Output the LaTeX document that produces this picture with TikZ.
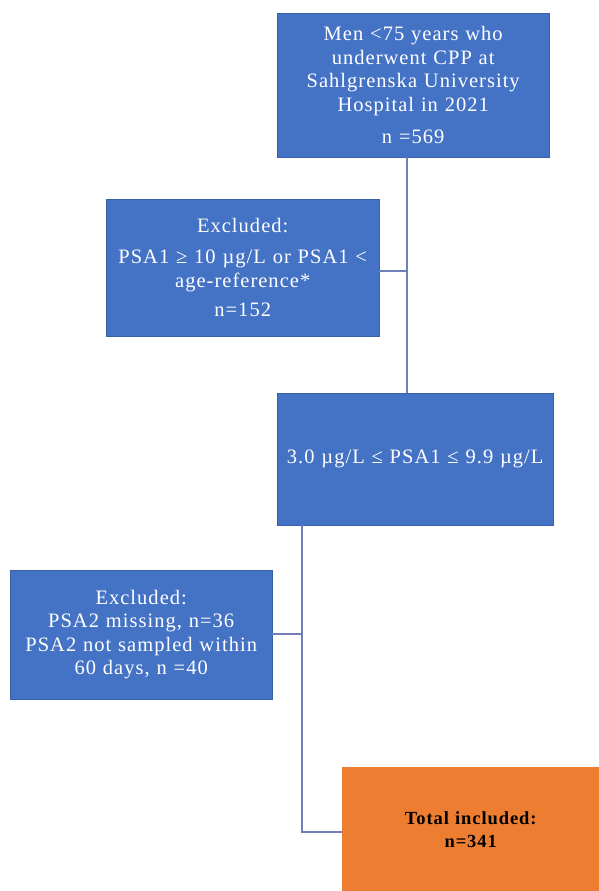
\documentclass[tikz,border=0pt]{standalone}
\usepackage{fontspec}
\setmainfont{Liberation Serif}
\newfontfamily\boxfont[LetterSpace=5]{Liberation Serif}
\definecolor{boxblue}{HTML}{4472C4}
\definecolor{boxorange}{HTML}{ED7D31}
\definecolor{linkblue}{HTML}{6F80B6}

\begin{document}
\begin{tikzpicture}[x=1pt,y=-1pt,
    flowbox/.style={fill=boxblue,draw=boxblue!85!black,line width=0.4pt,anchor=north west,
      text=white,align=center,inner sep=0pt,font=\boxfont\fontsize{20.5}{23.5}\selectfont},
    totalbox/.style={flowbox,fill=boxorange,draw=none,text=black,font=\boxfont\fontsize{18.5}{23}\selectfont\bfseries},
    link/.style={draw=linkblue,line width=1.4pt}]
    \useasboundingbox (0,0) rectangle (599,891);
    \node[flowbox,minimum width=272pt,minimum height=144pt,text width=262pt] (men) at (277,13)
      {Men <75 years who\\underwent CPP at\\Sahlgrenska University\\Hospital in 2021\\[9pt]n =569};
    \node[flowbox,minimum width=273pt,minimum height=137pt,text width=265pt] (excla) at (106,199)
      {Excluded:\\[8pt]PSA1 ≥ 10 µg/L or PSA1 <\\age-reference*\\[6pt]n=152};
    \node[flowbox,minimum width=276pt,minimum height=132pt,text width=270pt] (range) at (277,393)
      {3.0 µg/L ≤ PSA1 ≤ 9.9 µg/L};
    \node[flowbox,minimum width=262pt,minimum height=129pt,text width=255pt] (exclb) at (10,570)
      {Excluded:\\PSA2 missing, n=36\\PSA2 not sampled within\\60 days, n =40};
    \node[totalbox,minimum width=257pt,minimum height=124pt,text width=250pt] (total) at (342,767)
      {Total included:\\n=341};
    \coordinate (ja) at (407,271);
    \coordinate (jb) at (302,634);
    \draw[link] (men.south -| ja) -- (range.north -| ja);
    \draw[link] (excla.east |- ja) -- (ja);
    \draw[link] (range.south -| jb) |- (total.west |- 0,832);
    \draw[link] (exclb.east |- jb) -- (jb);
  \end{tikzpicture}
\end{document}
